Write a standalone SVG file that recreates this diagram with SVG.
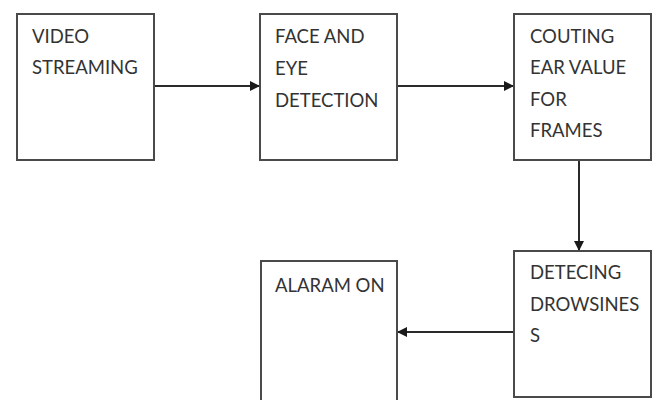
<svg xmlns="http://www.w3.org/2000/svg" width="655" height="400" viewBox="0 0 655 400">
<defs>
<style>
.box{fill:#fff;stroke:#4a4a4a;stroke-width:2}
.t{font-family:Lato,"Liberation Sans",sans-serif;font-size:18.5px;fill:#333}
.c{stroke:#2a2a2a;stroke-width:2;fill:none}
</style>
<marker id="ah" viewBox="0 0 10 10" refX="10" refY="5" markerWidth="5" markerHeight="5" orient="auto" markerUnits="strokeWidth">
<path d="M0,0 L10,5 L0,10 z" fill="#1a1a1a"/>
</marker>
</defs>
<rect width="655" height="400" fill="#fff"/>
<g id="connectors">
<line class="c" x1="154" y1="86" x2="260" y2="86" marker-end="url(#ah)"/>
<line class="c" x1="397" y1="86" x2="514" y2="86" marker-end="url(#ah)"/>
<line class="c" x1="579" y1="160" x2="579" y2="251" marker-end="url(#ah)"/>
<line class="c" x1="514" y1="332" x2="397" y2="332" marker-end="url(#ah)"/>
</g>
<g id="video">
<rect class="box" x="17" y="14" width="137" height="146"/>
<text class="t" x="32" y="43">VIDEO</text>
<text class="t" x="32" y="74">STREAMING</text>
</g>
<g id="face">
<rect class="box" x="260" y="14" width="137" height="146"/>
<text class="t" x="275" y="43">FACE AND</text>
<text class="t" x="275" y="75">EYE</text>
<text class="t" x="275" y="107">DETECTION</text>
</g>
<g id="couting">
<rect class="box" x="514" y="14" width="137" height="146"/>
<text class="t" x="530" y="43">COUTING</text>
<text class="t" x="530" y="74">EAR VALUE</text>
<text class="t" x="530" y="106">FOR</text>
<text class="t" x="530" y="137">FRAMES</text>
</g>
<g id="detecing">
<rect class="box" x="514" y="251" width="137" height="146"/>
<text class="t" x="530" y="279">DETECING</text>
<text class="t" x="530" y="311">DROWSINES</text>
<text class="t" x="530" y="342">S</text>
</g>
<g id="alaram">
<rect class="box" x="261" y="261" width="136" height="150"/>
<text class="t" x="275" y="292">ALARAM ON</text>
</g>
</svg>
